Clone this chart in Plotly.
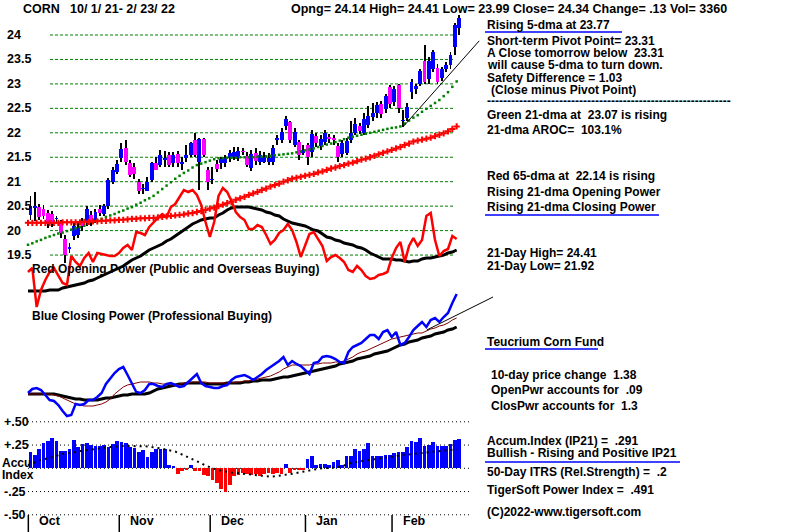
import plotly.graph_objects as go

W, H = 800, 532

# ------------------------------------------------------------------ data
months = ["Oct", "Nov", "Dec", "Jan", "Feb"]
month_start = [0, 21, 42, 64, 84]

opens = [20.32, 20.46, 20.48, 20.45, 20.36, 20.33, 20.24, 20.17, 19.83, 19.62,
         19.88, 19.92, 20.20, 20.17, 20.32, 20.22, 20.45, 20.34, 20.50, 21.00,
         21.20, 21.48, 21.69, 21.38, 21.30, 21.00, 20.85, 20.82, 21.03, 21.38,
         21.34, 21.45, 21.55, 21.38, 21.56, 21.37, 21.48, 21.55, 21.85, 21.40,
         21.87, 21.24, 21.04, 21.36, 21.39, 21.39, 21.48, 21.50, 21.48, 21.62,
         21.53, 21.28, 21.59, 21.41, 21.41, 21.41, 21.41, 21.85, 21.85, 22.14,
         22.22, 21.75, 21.81, 21.59, 21.75, 21.60, 21.93, 21.73, 21.81, 21.92,
         21.90, 21.73, 21.57, 21.59, 21.85, 22.00, 22.14, 22.00, 22.16, 22.32,
         22.40, 22.59, 22.49, 22.94, 22.63, 22.98, 22.25, 22.30, 22.83, 22.90,
         23.00, 23.47, 23.10, 23.30, 23.33, 23.12, 23.30, 23.38, 23.75, 24.14]
highs = [20.71, 20.78, 20.55, 20.52, 20.42, 20.40, 20.30, 20.22, 19.90, 19.75,
         20.15, 20.20, 20.25, 20.50, 20.40, 20.45, 20.52, 20.55, 21.08, 21.30,
         21.45, 21.80, 21.85, 21.45, 21.38, 21.05, 20.95, 21.10, 21.40, 21.50,
         21.65, 21.62, 21.60, 21.60, 21.62, 21.50, 21.75, 21.82, 22.00, 21.90,
         21.90, 21.30, 21.30, 21.45, 21.50, 21.55, 21.65, 21.70, 21.70, 21.68,
         21.60, 21.65, 21.68, 21.62, 21.60, 21.58, 21.75, 21.95, 22.10, 22.35,
         22.25, 22.10, 21.85, 21.75, 21.80, 22.05, 22.00, 21.95, 22.05, 21.98,
         21.95, 21.80, 21.85, 21.90, 22.25, 22.30, 22.20, 22.40, 22.55, 22.60,
         22.62, 22.65, 22.80, 22.98, 22.95, 23.00, 22.47, 22.60, 23.10, 23.00,
         23.30, 23.80, 23.55, 23.70, 23.40, 23.35, 23.45, 23.65, 24.25, 24.41]
lows = [20.22, 20.20, 20.22, 20.24, 20.05, 20.08, 20.15, 19.85, 19.34, 19.55,
        19.80, 19.85, 20.00, 20.10, 20.10, 20.15, 20.30, 20.30, 20.45, 20.95,
        21.15, 21.40, 21.35, 21.10, 21.05, 20.75, 20.75, 20.80, 21.00, 21.25,
        21.30, 21.30, 21.30, 21.30, 21.30, 21.24, 21.40, 21.50, 21.50, 20.83,
        21.50, 20.83, 20.95, 21.20, 21.25, 21.30, 21.40, 21.45, 21.42, 21.55,
        21.30, 21.22, 21.35, 21.35, 21.38, 21.35, 21.35, 21.75, 21.80, 22.05,
        21.80, 21.70, 21.45, 21.55, 21.34, 21.50, 21.70, 21.65, 21.75, 21.80,
        21.75, 21.40, 21.50, 21.55, 21.80, 21.95, 21.98, 21.95, 22.10, 22.25,
        22.30, 22.30, 22.40, 22.50, 22.55, 22.40, 22.12, 22.25, 22.70, 22.80,
        22.95, 23.00, 23.00, 23.25, 23.00, 23.05, 23.25, 23.30, 23.60, 23.99]
closes = [20.51, 20.50, 20.28, 20.30, 20.14, 20.13, 20.26, 19.95, 19.50, 19.66,
          20.10, 20.05, 20.10, 20.45, 20.17, 20.38, 20.35, 20.50, 21.03, 21.24,
          21.36, 21.67, 21.40, 21.14, 21.15, 20.80, 20.87, 21.00, 21.38, 21.24,
          21.55, 21.48, 21.34, 21.55, 21.38, 21.40, 21.55, 21.79, 21.55, 21.87,
          21.55, 21.00, 21.06, 21.26, 21.46, 21.48, 21.59, 21.60, 21.63, 21.60,
          21.34, 21.57, 21.43, 21.55, 21.51, 21.48, 21.69, 21.89, 22.01, 22.28,
          21.85, 22.01, 21.55, 21.65, 21.51, 21.98, 21.79, 21.87, 22.00, 21.88,
          21.86, 21.50, 21.80, 21.83, 22.00, 22.18, 22.04, 22.28, 22.34, 22.40,
          22.57, 22.38, 22.75, 22.59, 22.90, 22.50, 22.27, 22.53, 23.04, 22.96,
          23.26, 23.04, 23.47, 23.65, 23.04, 23.30, 23.39, 23.60, 24.20, 24.34]

ma21 = [19.71, 19.74, 19.78, 19.81, 19.85, 19.88, 19.91, 19.94, 19.96, 19.99,
        20.02, 20.05, 20.07, 20.10, 20.14, 20.17, 20.21, 20.24, 20.28, 20.31,
        20.34, 20.38, 20.41, 20.45, 20.48, 20.53, 20.57, 20.62, 20.66, 20.71,
        20.78, 20.85, 20.92, 20.99, 21.06, 21.12, 21.18, 21.23, 21.29, 21.34,
        21.37, 21.40, 21.43, 21.46, 21.48, 21.48, 21.49, 21.49, 21.49, 21.50,
        21.50, 21.50, 21.50, 21.51, 21.51, 21.52, 21.53, 21.54, 21.55, 21.56,
        21.57, 21.58, 21.60, 21.62, 21.64, 21.66, 21.68, 21.71, 21.73, 21.76,
        21.78, 21.81, 21.84, 21.87, 21.90, 21.92, 21.94, 21.96, 21.98, 22.00,
        22.02, 22.04, 22.06, 22.08, 22.10, 22.11, 22.13, 22.19, 22.25, 22.31,
        22.36, 22.43, 22.49, 22.55, 22.61, 22.67, 22.75, 22.83, 22.94, 23.05]
ma65 = [20.16, 20.16, 20.16, 20.16, 20.16, 20.16, 20.16, 20.16, 20.17, 20.17,
        20.17, 20.17, 20.17, 20.18, 20.18, 20.19, 20.19, 20.20, 20.20, 20.21,
        20.21, 20.22, 20.22, 20.23, 20.24, 20.24, 20.25, 20.25, 20.26, 20.26,
        20.27, 20.28, 20.29, 20.30, 20.31, 20.32, 20.33, 20.35, 20.36, 20.38,
        20.40, 20.42, 20.45, 20.47, 20.50, 20.53, 20.56, 20.59, 20.63, 20.66,
        20.69, 20.73, 20.76, 20.79, 20.83, 20.86, 20.90, 20.93, 20.96, 21.00,
        21.03, 21.06, 21.08, 21.10, 21.12, 21.14, 21.16, 21.19, 21.21, 21.24,
        21.27, 21.29, 21.32, 21.34, 21.37, 21.39, 21.42, 21.45, 21.47, 21.50,
        21.53, 21.56, 21.59, 21.62, 21.65, 21.68, 21.71, 21.75, 21.78, 21.82,
        21.84, 21.86, 21.88, 21.90, 21.93, 21.96, 21.99, 22.03, 22.08, 22.13]

open_power = [2.8, 3.2, -0.7, 1.0, 2.0, 2.8, 3.2, 2.5, 1.7, 1.5,
              4.4, 3.8, 3.4, 4.2, 4.7, 3.8, 4.7, 4.6, 4.5, 4.4,
              4.4, 4.7, 5.2, 5.5, 5.0, 6.8, 6.7, 6.5, 7.3, 7.8,
              8.2, 8.6, 8.3, 9.3, 9.6, 10.3, 11.0, 10.8, 11.0, 10.5,
              9.5, 7.8, 6.3, 7.8, 10.4, 11.2, 10.8, 9.9, 8.8, 8.3,
              8.0, 7.1, 7.1, 7.5, 7.3, 6.5, 5.6, 6.0, 6.7, 7.0,
              7.6, 7.0, 5.8, 4.3, 5.5, 6.6, 6.8, 6.1, 5.4, 3.9,
              4.3, 4.5, 4.2, 3.8, 3.0, 2.8, 3.4, 3.0, 2.4, 2.1,
              2.2, 2.5, 2.6, 2.8, 4.2, 5.2, 5.8, 3.8, 5.4, 6.2,
              5.4, 6.0, 8.4, 8.7, 6.0, 4.4, 4.9, 5.1, 6.4, 6.1]
open_power_ma = [0.9, 0.9, 0.9, 0.9, 0.9, 1.0, 1.0, 1.0, 1.2, 1.3,
                 1.4, 1.5, 1.6, 1.7, 1.9, 2.0, 2.2, 2.4, 2.6, 2.8,
                 3.0, 3.2, 3.4, 3.7, 4.0, 4.2, 4.4, 4.7, 5.0, 5.2,
                 5.4, 5.6, 5.9, 6.1, 6.4, 6.7, 7.0, 7.3, 7.6, 7.8,
                 8.0, 8.1, 8.2, 8.2, 8.5, 8.7, 9.0, 9.2, 9.3, 9.3,
                 9.3, 9.3, 9.2, 9.1, 9.0, 8.8, 8.7, 8.5, 8.4, 8.1,
                 7.9, 7.7, 7.6, 7.5, 7.4, 7.2, 7.0, 6.9, 6.6, 6.3,
                 6.2, 6.0, 5.9, 5.7, 5.6, 5.5, 5.3, 5.2, 5.0, 4.7,
                 4.5, 4.3, 4.1, 4.1, 4.1, 4.0, 4.0, 3.9, 3.8, 3.9,
                 3.9, 4.1, 4.2, 4.2, 4.3, 4.4, 4.5, 4.7, 4.8, 5.0]

close_power = [2.7, 3.1, 3.2, 3.0, 2.5, 2.0, 1.9, 1.5, 0.9, 0.4,
               0.5, 1.6, 1.5, 1.6, 2.0, 2.0, 2.3, 2.7, 3.6, 4.2,
               4.7, 5.1, 5.3, 4.5, 3.7, 2.8, 2.7, 3.0, 3.6, 3.6,
               3.4, 3.3, 3.6, 3.7, 3.5, 3.3, 3.4, 3.8, 4.2, 4.6,
               3.7, 3.4, 3.3, 3.2, 3.2, 3.4, 3.5, 4.0, 4.3, 4.4,
               4.5, 4.3, 4.0, 4.3, 4.6, 5.0, 5.3, 5.6, 5.9, 6.3,
               5.5, 5.9, 5.6, 5.4, 5.0, 4.6, 5.7, 5.8, 6.3, 6.4,
               6.3, 6.1, 5.8, 5.7, 6.8, 7.3, 7.5, 7.7, 8.1, 8.5,
               8.5, 8.1, 8.8, 9.0, 8.3, 8.8, 7.5, 7.7, 8.3, 9.0,
               9.4, 9.8, 9.3, 10.0, 10.2, 9.8, 10.3, 10.7, 11.7, 12.6]
close_power_ma = [2.6, 2.6, 2.6, 2.6, 2.6, 2.6, 2.6, 2.5, 2.4, 2.3,
                  2.2, 2.1, 2.1, 2.0, 2.0, 2.0, 2.0, 2.1, 2.2, 2.2,
                  2.3, 2.4, 2.5, 2.5, 2.6, 2.6, 2.6, 2.6, 2.7, 2.9,
                  3.1, 3.2, 3.3, 3.4, 3.5, 3.6, 3.6, 3.7, 3.7, 3.7,
                  3.7, 3.6, 3.6, 3.6, 3.6, 3.6, 3.7, 3.7, 3.7, 3.7,
                  3.8, 3.8, 3.9, 3.9, 4.0, 4.0, 4.0, 4.1, 4.2, 4.3,
                  4.3, 4.4, 4.5, 4.6, 4.7, 4.8, 4.9, 5.0, 5.1, 5.2,
                  5.3, 5.4, 5.6, 5.7, 5.8, 5.9, 6.1, 6.2, 6.3, 6.4,
                  6.6, 6.7, 6.8, 6.9, 7.1, 7.3, 7.5, 7.6, 7.8, 7.9,
                  8.0, 8.2, 8.3, 8.4, 8.6, 8.7, 8.8, 9.0, 9.1, 9.3]
close_power_ma_short = [2.6, 2.6, 2.6, 2.6, 2.6, 2.6, 2.5, 2.4, 2.2, 2.0,
                        1.8, 1.6, 1.5, 1.4, 1.4, 1.4, 1.5, 1.6, 1.8, 2.1,
                        2.6, 3.0, 3.3, 3.5, 3.6, 3.7, 3.8, 3.8, 3.8, 3.7,
                        3.7, 3.6, 3.6, 3.5, 3.5, 3.6, 3.7, 3.7, 3.8, 3.8,
                        3.8, 3.8, 3.7, 3.7, 3.7, 3.7, 3.7, 3.7, 3.8, 3.8,
                        3.9, 3.9, 4.0, 4.1, 4.2, 4.3, 4.4, 4.6, 4.8, 5.1,
                        5.3, 5.5, 5.5, 5.5, 5.5, 5.5, 5.6, 5.6, 5.7, 5.7,
                        5.7, 5.8, 5.8, 5.9, 6.1, 6.3, 6.6, 6.8, 6.9, 7.1,
                        7.3, 7.5, 7.7, 7.9, 8.1, 8.2, 8.3, 8.4, 8.5, 8.6,
                        8.7, 8.7, 8.9, 9.1, 9.2, 9.4, 9.5, 9.7, 10.0, 10.2]

accum = [0.18, 0.14, 0.21, 0.27, 0.29, 0.33, 0.29, 0.19, 0.19, 0.21,
         0.30, 0.23, 0.26, 0.27, 0.25, 0.24, 0.24, 0.25, 0.23, 0.26,
         0.29, 0.28, 0.27, 0.23, 0.22, 0.18, 0.20, 0.12, 0.17, 0.21,
         0.21, 0.21, 0.04, 0.03, -0.06, -0.03, -0.02, 0.04, -0.03, -0.03,
         -0.07, -0.08, -0.13, -0.16, -0.22, -0.25, -0.18, -0.08, -0.07, -0.05,
         -0.06, -0.07, -0.06, -0.08, -0.06, -0.05, -0.06, -0.05, -0.06, 0.05,
         -0.05, -0.02, -0.02, -0.02, 0.10, 0.13, 0.04, 0.05, 0.05, 0.04,
         0.07, 0.09, 0.04, 0.13, 0.13, 0.21, 0.19, 0.21, 0.27, 0.13,
         0.13, 0.13, 0.14, 0.14, 0.16, 0.18, 0.17, 0.23, 0.29, 0.28,
         0.33, 0.24, 0.25, 0.28, 0.24, 0.24, 0.24, 0.26, 0.30, 0.31]
accum_ma = [0.035, 0.05, 0.07, 0.09, 0.10, 0.11, 0.125, 0.14, 0.155, 0.16,
            0.17, 0.175, 0.185, 0.19, 0.20, 0.205, 0.21, 0.22, 0.225, 0.23,
            0.235, 0.24, 0.24, 0.24, 0.24, 0.24, 0.24, 0.24, 0.235, 0.225,
            0.22, 0.21, 0.20, 0.19, 0.18, 0.16, 0.14, 0.12, 0.10, 0.08,
            0.055, 0.03, 0.01, -0.005, -0.02, -0.03, -0.04, -0.045, -0.05, -0.055,
            -0.06, -0.07, -0.075, -0.08, -0.085, -0.09, -0.09, -0.085, -0.08, -0.07,
            -0.065, -0.06, -0.05, -0.04, -0.03, -0.02, -0.01, -0.005, 0.0, 0.0,
            0.005, 0.01, 0.015, 0.03, 0.05, 0.06, 0.07, 0.08, 0.085, 0.09,
            0.10, 0.105, 0.11, 0.115, 0.12, 0.13, 0.14, 0.145, 0.15, 0.155,
            0.16, 0.165, 0.17, 0.175, 0.18, 0.19, 0.19, 0.195, 0.20, 0.205]

price_ticks = [24, 23.5, 23, 22.5, 22, 21.5, 21, 20.5, 20, 19.5]
price_tick_labels = ["24", "23.5", "23", "22.5", "22", "21.5", "21", "20.5", "20", "19.5"]
accum_ticks = [0.5, 0.25, -0.25, -0.5]
accum_tick_labels = ["+.50", "+.25", "-.25", "-.50"]
accum_grid = [0.5, 0.25, 0.0, -0.25, -0.5]

trend_price_x = [86.6, 104.2]
trend_price_y = [22.12, 23.88]
trend_cp_x = [92.1, 107.4]
trend_cp_y = [9.0, 12.3]

# ------------------------------------------------------------------ geometry
BAR = 4.33          # pixels per trading day
BAR_X0 = 30.5       # pixel of first bar centre
LINE_X0 = 28.0      # pixel of first line point
PX_PER_PRICE = 48.9
Y24 = 35.0          # pixel of price 24
ACC_ZERO = 468.3
ACC_UNIT = 93.0


def px(x):
    return x / W


def py(y):
    return 1 - y / H


n = len(closes)
idx = list(range(n))

fig = go.Figure()

BLUE = "#0000FF"
MAG = "#FF00FF"
RED = "#FF0000"
GREEN = "#008000"
DKRED = "#800000"

# moving averages on price
fig.add_trace(go.Scatter(x=idx, y=ma21, mode="markers", xaxis="x2", yaxis="y",
                         marker=dict(symbol="square", size=2.5, color=GREEN, line=dict(width=0))))
fig.add_trace(go.Scatter(x=idx, y=ma65, mode="markers", xaxis="x2", yaxis="y",
                         marker=dict(symbol="cross-thin", size=4.5, color=RED,
                                     line=dict(width=2, color=RED))))

# price bars: wicks then bodies
fig.add_trace(go.Bar(x=idx, y=[h - l for h, l in zip(highs, lows)], base=lows,
                     width=0.45, marker=dict(color="black", line=dict(width=0)),
                     xaxis="x", yaxis="y"))
up = [i for i in idx if closes[i] >= opens[i]]
dn = [i for i in idx if closes[i] < opens[i]]
fig.add_trace(go.Bar(x=up, y=[closes[i] - opens[i] for i in up], base=[opens[i] for i in up],
                     width=0.9, marker=dict(color=BLUE, line=dict(width=0)), xaxis="x", yaxis="y"))
fig.add_trace(go.Bar(x=dn, y=[opens[i] - closes[i] for i in dn], base=[closes[i] for i in dn],
                     width=0.9, marker=dict(color=MAG, line=dict(width=0)), xaxis="x", yaxis="y"))

# short-term trend line on price
fig.add_trace(go.Scatter(x=trend_price_x, y=trend_price_y, mode="lines", xaxis="x2", yaxis="y",
                         line=dict(color="black", width=1)))

# opening power panel
fig.add_trace(go.Scatter(x=idx, y=open_power_ma, mode="lines", xaxis="x2", yaxis="y2",
                         line=dict(color="black", width=3)))
fig.add_trace(go.Scatter(x=idx, y=open_power, mode="lines", xaxis="x2", yaxis="y2",
                         line=dict(color=RED, width=2.5)))

# closing power panel
fig.add_trace(go.Scatter(x=idx, y=close_power_ma, mode="lines", xaxis="x2", yaxis="y3",
                         line=dict(color="black", width=3)))
fig.add_trace(go.Scatter(x=idx, y=close_power_ma_short, mode="lines", xaxis="x2", yaxis="y3",
                         line=dict(color=DKRED, width=1)))
fig.add_trace(go.Scatter(x=idx, y=close_power, mode="lines", xaxis="x2", yaxis="y3",
                         line=dict(color=BLUE, width=2.5)))
fig.add_trace(go.Scatter(x=trend_cp_x, y=trend_cp_y, mode="lines", xaxis="x2", yaxis="y3",
                         line=dict(color="black", width=1)))

# accumulation index
fig.add_trace(go.Bar(x=idx, y=accum, width=0.85, xaxis="x", yaxis="y4",
                     marker=dict(color=[BLUE if v >= 0 else RED for v in accum], line=dict(width=0))))
fig.add_trace(go.Scatter(x=idx, y=accum_ma, mode="lines", xaxis="x2", yaxis="y4",
                         line=dict(color="black", width=2, dash="2px,4px")))

# ------------------------------------------------------------------ axes
x_rng = [-BAR_X0 / BAR, (W - BAR_X0) / BAR]
x2_rng = [-LINE_X0 / BAR, (W - LINE_X0) / BAR]
y_rng = [24 - (H - Y24) / PX_PER_PRICE, 24 + Y24 / PX_PER_PRICE]
y2_rng = [(300 - H) / 10, 300 / 10]
y3_rng = [(420 - H) / 10, 420 / 10]
y4_rng = [(ACC_ZERO - H) / ACC_UNIT, ACC_ZERO / ACC_UNIT]

hidden = dict(visible=False, fixedrange=True, showgrid=False, zeroline=False)
fig.update_layout(
    width=W, height=H, autosize=False,
    margin=dict(l=0, r=0, t=0, b=0, pad=0),
    paper_bgcolor="white", plot_bgcolor="white",
    showlegend=False, barmode="overlay", bargap=0, hovermode=False,
    xaxis=dict(range=x_rng, domain=[0, 1], **hidden),
    xaxis2=dict(range=x2_rng, overlaying="x", **hidden),
    yaxis=dict(range=y_rng, domain=[0, 1], **hidden),
    yaxis2=dict(range=y2_rng, overlaying="y", **hidden),
    yaxis3=dict(range=y3_rng, overlaying="y", **hidden),
    yaxis4=dict(range=y4_rng, overlaying="y", **hidden),
    font=dict(family="Liberation Sans, Arial, sans-serif", size=12, color="black"),
)

shapes = []
for t in price_ticks:
    shapes.append(dict(type="line", xref="paper", yref="y", x0=px(50), x1=px(453), y0=t, y1=t,
                       line=dict(color=GREEN, width=1, dash="3px,2px"), layer="below"))
for t in accum_grid:
    shapes.append(dict(type="line", xref="paper", yref="y4", x0=px(28), x1=px(472), y0=t, y1=t,
                       line=dict(color="black", width=1, dash="1px,3px"), layer="below"))
for m in month_start:
    shapes.append(dict(type="line", xref="x", yref="paper", x0=m - 0.5, x1=m - 0.5,
                       y0=py(515), y1=py(532), line=dict(color="black", width=1.5)))
for (x0, x1, y) in [(485, 622, 32), (485, 659, 215), (485, 598, 349), (485, 680, 462)]:
    shapes.append(dict(type="line", xref="paper", yref="paper", x0=px(x0), x1=px(x1),
                       y0=py(y), y1=py(y), line=dict(color=BLUE, width=1.5)))
fig.update_layout(shapes=shapes)

ann = []


def text(x, y, s, size=12, xanchor="left"):
    ann.append(dict(xref="paper", yref="paper", x=px(x), y=py(y), text="<b>" + s + "</b>",
                    showarrow=False, xanchor=xanchor, yanchor="middle",
                    font=dict(size=size, color="black")))


for t, lab in zip(price_ticks, price_tick_labels):
    ann.append(dict(xref="paper", yref="y", x=px(5), y=t, text="<b>" + lab + "</b>",
                    showarrow=False, xanchor="left", yanchor="middle", font=dict(size=12.5)))
for t, lab in zip(accum_ticks, accum_tick_labels):
    ann.append(dict(xref="paper", yref="y4", x=px(2), y=t, text="<b>" + lab + "</b>",
                    showarrow=False, xanchor="left", yanchor="middle", font=dict(size=12.5)))
for m, lab in zip(month_start, months):
    ann.append(dict(xref="x", yref="paper", x=m + 1.5, y=py(521), text="<b>" + lab + "</b>",
                    showarrow=False, xanchor="left", yanchor="middle", font=dict(size=12.5)))

text(21, 9, "CORN", 12.5)
text(68, 9, "10/ 1/ 21- 2/ 23/ 22", 12.5)
text(289, 9, "Opng= 24.14 High= 24.41 Low= 23.99 Close= 24.34 Change= .13 Vol= 3360", 12.5)

text(30, 269, "Red Opening Power (Public and Overseas Buying)")
text(30, 316, "Blue Closing Power (Professional Buying)")
text(0, 463, "Accu")
text(0, 475, "Index")

right = [
    (485, 25, "Rising 5-dma at 23.77"),
    (485, 41, "Short-term Pivot Point= 23.31"),
    (485, 53, "A Close tomorrow below  23.31"),
    (485, 65, "will cause 5-dma to turn down."),
    (485, 78, "Safety Difference = 1.03"),
    (489, 90, "(Close minus Pivot Point)"),
    (485, 101, "-" * 61),
    (485, 115, "Green 21-dma at  23.07 is rising"),
    (485, 130, "21-dma AROC=  103.1%"),
    (485, 176, "Red 65-dma at  22.14 is rising"),
    (485, 192, "Rising 21-dma Opening Power"),
    (485, 207, "Rising 21-dma Closing Power"),
    (485, 253, "21-Day High= 24.41"),
    (485, 266, "21-Day Low= 21.92"),
    (485, 342, "Teucrium Corn Fund"),
    (489, 375, "10-day price change  1.38"),
    (489, 390, "OpenPwr accounts for  .09"),
    (489, 406, "ClosPwr accounts for  1.3"),
    (485, 441, "Accum.Index (IP21) =  .291"),
    (485, 453, "Bullish - Rising and Positive IP21"),
    (485, 472, "50-Day ITRS (Rel.Strength) =  .2"),
    (485, 490, "TigerSoft Power Index =  .491"),
    (485, 512, "(C)2022-www.tigersoft.com"),
]
for x, y, s in right:
    text(x, y, s)

fig.update_layout(annotations=ann)
fig.write_html("out.html", config={"displayModeBar": False, "staticPlot": True},
               post_script="document.body.style.margin='0';document.body.style.padding='0';")
